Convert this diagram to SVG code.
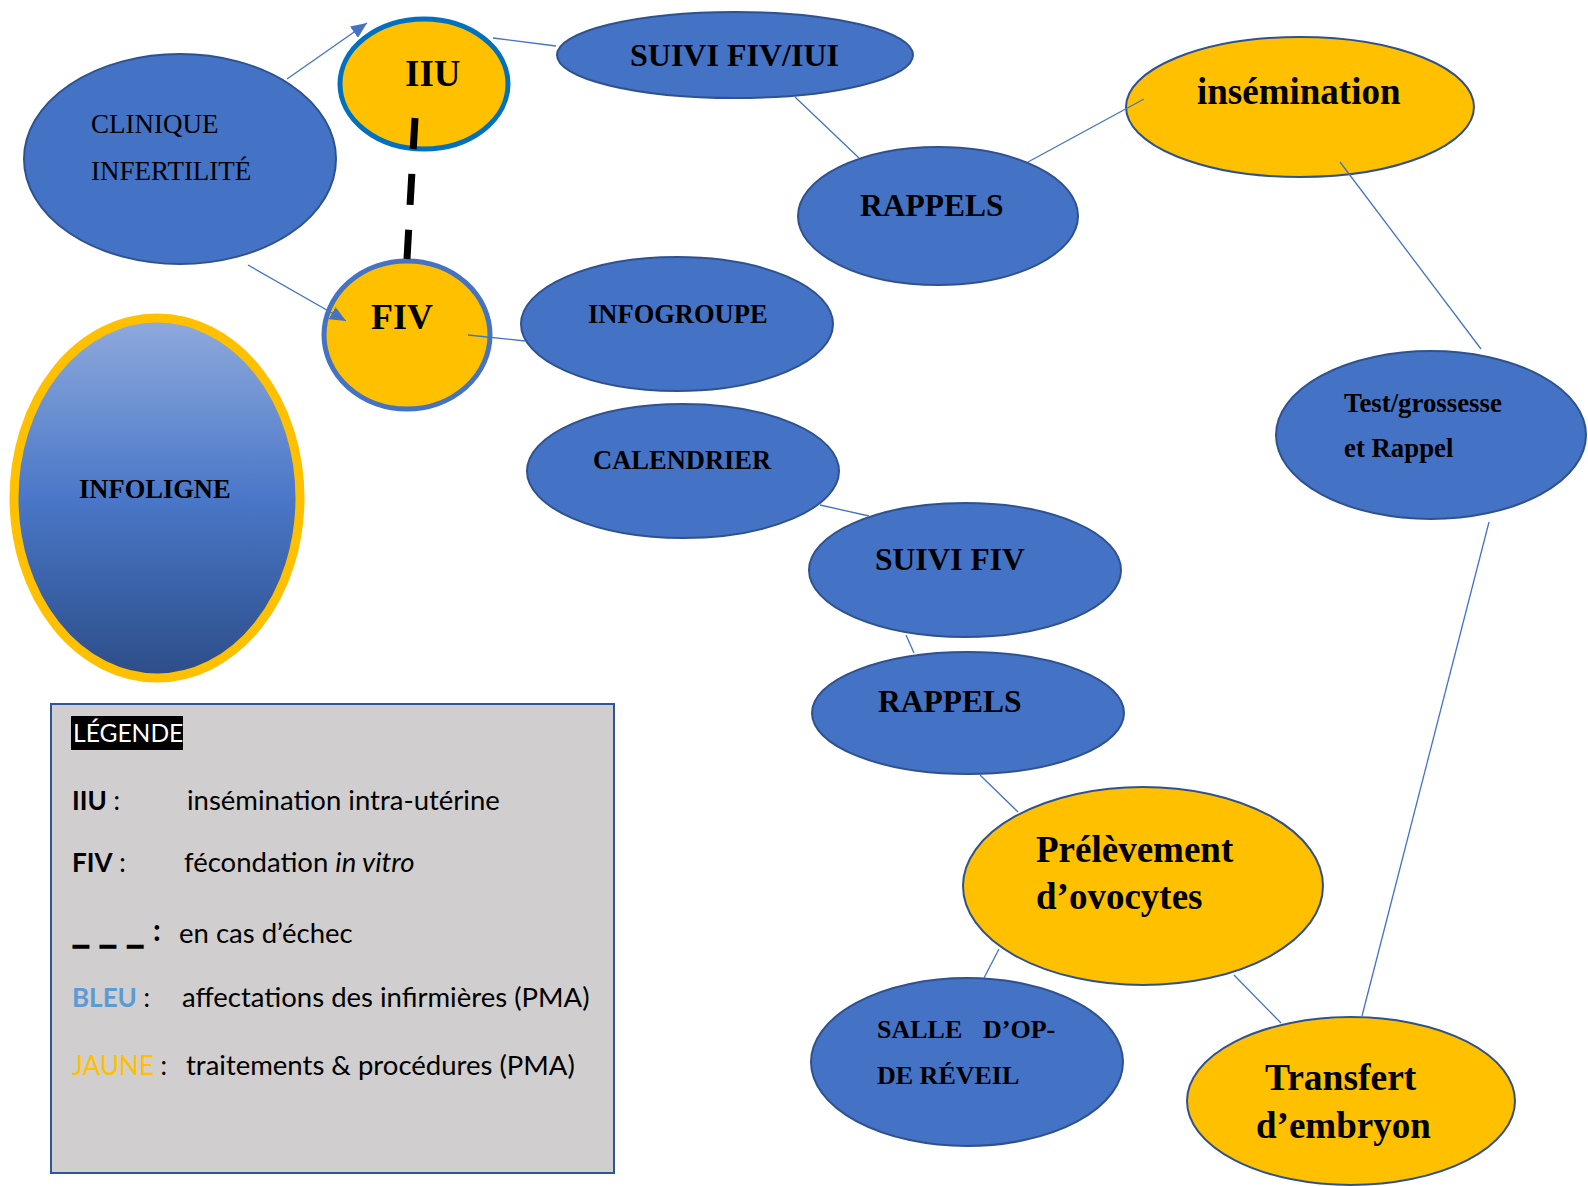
<svg xmlns="http://www.w3.org/2000/svg" width="1588" height="1186" viewBox="0 0 1588 1186">
<style>
.blue{fill:#4472C4;stroke:#2F528F;stroke-width:2}
.gold{fill:#FFC000;stroke:#2F528F;stroke-width:2}
.t{font-family:"Liberation Serif","Times New Roman",serif;fill:#000}
.b{font-weight:bold}
.conn{stroke:#4472C4;stroke-width:1.3;fill:none}
.lg{font-family:Lato,"Liberation Sans",sans-serif;font-size:27.5px;fill:#000}
.lb{font-size:26px}
</style>
<defs>
<linearGradient id="grad" x1="0" y1="0" x2="0" y2="1">
<stop offset="0" stop-color="#8FAADC"/>
<stop offset="0.5" stop-color="#4A77C8"/>
<stop offset="1" stop-color="#2C4D88"/>
</linearGradient>
<marker id="arr" markerUnits="userSpaceOnUse" markerWidth="16" markerHeight="14" refX="16" refY="7" orient="auto">
<path d="M0,0 L16,7 L0,14 z" fill="#4472C4"/>
</marker>
</defs>

<g id="node-clinique">
<ellipse class="blue" cx="180" cy="159" rx="156" ry="105"/>
<text class="t" font-size="27" x="91" y="133">CLINIQUE</text>
<text class="t" font-size="27" x="91" y="180">INFERTILITÉ</text>
</g>
<g id="node-iiu">
<ellipse cx="424" cy="84" rx="84" ry="65" fill="#FFC000" stroke="#0070C0" stroke-width="5"/>
<text class="t b" font-size="37" x="405" y="86">IIU</text>
</g>
<g id="node-fiv">
<ellipse cx="407" cy="335" rx="83" ry="74" fill="#FFC000" stroke="#4472C4" stroke-width="5"/>
<text class="t b" font-size="36" x="371" y="329">FIV</text>
</g>
<g id="node-infoligne">
<ellipse cx="157" cy="498" rx="143" ry="180" fill="url(#grad)" stroke="#FFC000" stroke-width="9"/>
<text class="t b" font-size="26.5" x="79" y="498">INFOLIGNE</text>
</g>
<g id="node-suivi-fiv-iui">
<ellipse class="blue" cx="735" cy="55" rx="178" ry="43"/>
<text class="t b" font-size="32" x="630" y="66">SUIVI FIV/IUI</text>
</g>
<g id="node-rappels-1">
<ellipse class="blue" cx="938" cy="216" rx="140" ry="69"/>
<text class="t b" font-size="31.5" x="860" y="216">RAPPELS</text>
</g>
<g id="node-insemination">
<ellipse class="gold" cx="1300" cy="107" rx="174" ry="70"/>
<text class="t b" font-size="37" x="1197" y="104">insémination</text>
</g>
<g id="node-test">
<ellipse class="blue" cx="1431" cy="435" rx="155" ry="84"/>
<text class="t b" font-size="26.8" x="1344" y="412">Test/grossesse</text>
<text class="t b" font-size="26.8" x="1344" y="457">et Rappel</text>
</g>
<g id="node-infogroupe">
<ellipse class="blue" cx="677" cy="324" rx="156" ry="67"/>
<text class="t b" font-size="26.5" x="588" y="323">INFOGROUPE</text>
</g>
<g id="node-calendrier">
<ellipse class="blue" cx="683" cy="471" rx="156" ry="67"/>
<text class="t b" font-size="26.5" x="593" y="469">CALENDRIER</text>
</g>
<g id="node-suivi-fiv">
<ellipse class="blue" cx="965" cy="570" rx="156" ry="67"/>
<text class="t b" font-size="31.5" x="875" y="570">SUIVI FIV</text>
</g>
<g id="node-rappels-2">
<ellipse class="blue" cx="968" cy="713" rx="156" ry="61"/>
<text class="t b" font-size="31.5" x="878" y="712">RAPPELS</text>
</g>
<g id="node-prelevement">
<ellipse class="gold" cx="1143" cy="886" rx="180" ry="99"/>
<text class="t b" font-size="37" x="1036" y="862">Prélèvement</text>
<text class="t b" font-size="37" x="1036" y="909">d’ovocytes</text>
</g>
<g id="node-salle">
<ellipse class="blue" cx="967" cy="1062" rx="156" ry="84"/>
<text class="t b" font-size="26" x="877" y="1038">SALLE<tspan x="983">D’OP-</tspan></text>
<text class="t b" font-size="26" x="877" y="1084">DE RÉVEIL</text>
</g>
<g id="node-transfert">
<ellipse class="gold" cx="1351" cy="1101" rx="164" ry="84"/>
<text class="t b" font-size="37.5" x="1265" y="1090">Transfert</text>
<text class="t b" font-size="37" x="1256" y="1138">d’embryon</text>
</g>

<g id="connectors">
<line class="conn" x1="287" y1="79" x2="367" y2="23" marker-end="url(#arr)"/>
<line class="conn" x1="248" y1="265" x2="346" y2="321" marker-end="url(#arr)"/>
<line x1="415" y1="118" x2="407" y2="259" stroke="#000" stroke-width="7" stroke-dasharray="31 25"/>
<line class="conn" x1="493" y1="38" x2="556" y2="46"/>
<line class="conn" x1="795" y1="97" x2="859" y2="158"/>
<line class="conn" x1="1028" y1="162" x2="1144" y2="99"/>
<line class="conn" x1="468" y1="335" x2="525" y2="341"/>
<line class="conn" x1="820" y1="505" x2="869" y2="516"/>
<line class="conn" x1="906" y1="635" x2="914" y2="653"/>
<line class="conn" x1="980" y1="775" x2="1018" y2="812"/>
<line class="conn" x1="999" y1="949" x2="984" y2="978"/>
<line class="conn" x1="1234" y1="975" x2="1281" y2="1023"/>
<line class="conn" x1="1340" y1="162" x2="1481" y2="349"/>
<line class="conn" x1="1489" y1="522" x2="1362" y2="1016"/>
</g>

<g id="legend">
<rect x="51" y="704" width="563" height="469" fill="#D0CECE" stroke="#2F5597" stroke-width="2"/>
<rect x="71" y="716" width="112" height="34" fill="#000"/>
<text class="lg" x="73" y="742" font-size="24.6" style="fill:#fff;font-size:24.6px">LÉGENDE</text>
<text class="lg lb" x="72" y="810"><tspan font-weight="bold">IIU</tspan> :</text>
<text class="lg" x="187" y="810">insémination intra-utérine</text>
<text class="lg lb" x="72" y="872"><tspan font-weight="bold">FIV</tspan> :</text>
<text class="lg" x="184" y="872">fécondation <tspan font-style="italic">in vitro</tspan></text>
<text class="lg" x="72" y="943" font-weight="bold" textLength="72" lengthAdjust="spacingAndGlyphs" stroke="#000" stroke-width="1.5" style="font-size:30px">_ _ _</text>
<text class="lg" x="153" y="941" font-weight="bold" style="font-size:30px">:</text>
<text class="lg" x="179" y="943">en cas d’échec</text>
<text class="lg lb" x="72" y="1007"><tspan font-weight="bold" style="fill:#5B9BD5">BLEU</tspan> :</text>
<text class="lg" x="182" y="1007">affectations des infirmières (PMA)</text>
<text class="lg lb" x="72" y="1075"><tspan style="fill:#FFC000">JAUNE</tspan> :</text>
<text class="lg" x="186" y="1075">traitements &amp; procédures (PMA)</text>
</g>
</svg>
